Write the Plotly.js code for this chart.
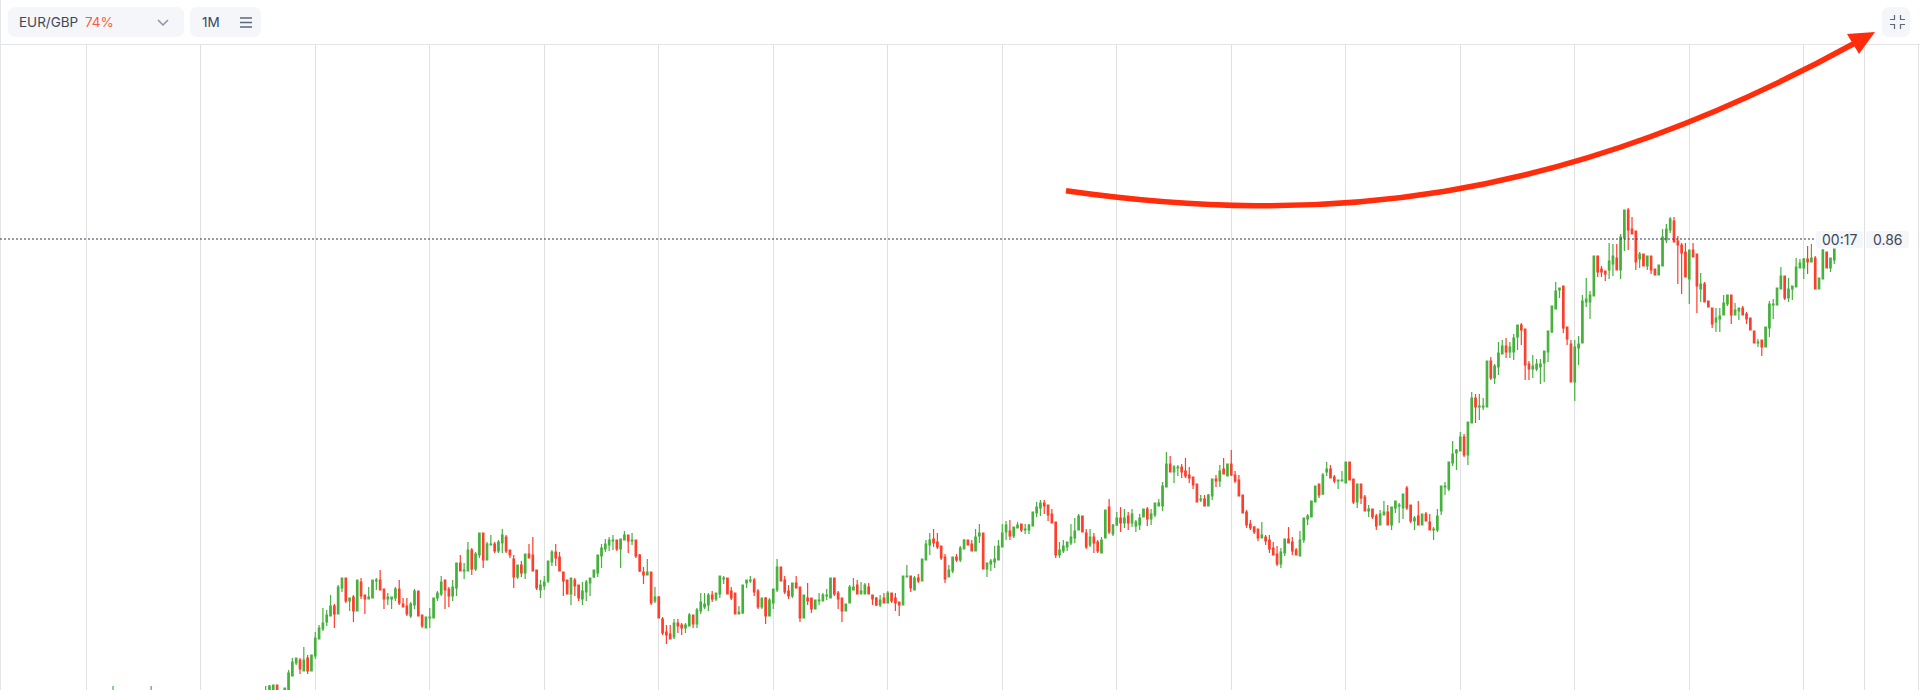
<!DOCTYPE html>
<html>
<head>
<meta charset="utf-8">
<script src="https://cdn.plot.ly/plotly-3.0.1.min.js"></script>
<style>
  html, body { margin: 0; padding: 0; background: #fff; }
  #chartBox { width: 1920px; height: 690px; }
</style>
</head>
<body>
<div id="chartBox"></div>
<script>
// 값은 0.8149 기준 pip 단위로 읽음
const basePrice = 0.8149;
const lastPrice = 0.86;
const pair = 'EUR/GBP';
const payout = '74%';
const period = '1M';
const timer = '00:17';
const skip = n => Array(n).fill(null);

const openPips = [
  -6, ...skip(9), -6, ...skip(29),
  -6,-6,-6,5,null,-6,0,14,27,30,19,32,19,34,51,61,68,74,84,76,102,112,89,93,79,108,95,91,92,109,110,101,91,91,92,101,86,84,74,85,99,75,62,72,72,92,96,110,101,94,102,127,119,119,140,121,135,157,130,145,146,139,147,153,140,131,113,125,117,136,135,120,100,104,109,
  128,138,133,118,110,96,110,105,91,98,107,113,117,134,141,145,149,150,141,150,155,149,150,135,118,115,118,89,93,71,58,56,53,67,65,62,64,75,66,79,83,85,95,91,96,111,112,99,97,76,77,107,109,110,99,83,92,74,87,100,123,110,99,94,107,103,72,92,92,81,89,89,94,92,112,97,92,79,87,100,105,96,96,103,95,92,85,92,87,97,92,88,85,113,114,100,112,109,130,145,151,148,144,133,113,119,133,130,141,150,146,139,154,157,121,126,128,130,143,158,159,154,162,166,160,160,164,177,182,187,185,
  176,168,135,139,143,147,152,160,174,157,145,153,148,137,152,183,156,165,172,167,174,167,164,165,173,181,171,175,184,184,203,226,218,222,223,219,215,213,206,190,191,184,194,211,209,221,214,226,215,210,195,178,166,163,161,152,153,150,142,136,126,137,151,148,140,134,150,171,173,188,206,196,218,221,213,209,209,207,228,211,188,206,193,179,181,174,165,175,178,165,182,184,182,202,185,169,174,165,176,168,160,160,179,203,201,227,237,239,253,235,
  267,292,283,283,283,329,312,323,336,344,338,338,353,365,361,326,321,321,323,327,338,358,381,400,404,363,346,308,342,347,388,388,394,434,421,419,420,426,432,420,452,480,461,459,431,436,424,434,421,415,424,450,460,469,449,445,438,411,440,436,401,406,389,382,368,371,375,386,395,375,379,382,376,372,359,347,350,343,362,385,385,401,414,392,401,403,422,422,431,428,432,401,411,438,422,430
];
const closePips = [
  -2, ...skip(9), -2, ...skip(29),
  -2,4,5,-6,null,2,17,28,32,21,30,19,35,52,62,67,75,84,76,103,112,89,92,79,110,94,91,93,110,110,100,91,93,93,101,87,83,76,86,99,74,64,73,73,92,97,108,100,94,103,127,119,120,140,121,136,157,130,146,146,139,148,155,139,135,113,125,117,136,132,119,102,105,108,129,
  138,132,119,109,96,112,104,92,99,108,112,120,135,142,146,150,150,141,151,155,149,150,134,119,115,118,87,93,72,57,55,51,67,64,62,65,75,66,80,88,86,95,91,97,114,112,96,92,76,78,105,110,110,98,83,92,74,90,101,123,109,98,94,107,102,72,95,89,81,90,90,95,95,112,96,91,79,86,103,103,96,99,105,96,91,85,90,87,97,89,87,85,114,114,102,112,109,131,146,150,147,143,132,111,120,133,130,142,150,145,139,153,157,121,127,129,131,144,157,165,154,163,165,160,161,165,178,183,187,184,175,
  167,135,140,144,148,153,159,174,158,143,153,147,139,150,180,158,165,172,167,172,167,176,168,172,181,171,176,187,187,204,226,218,223,223,218,214,212,205,188,191,184,195,211,209,219,216,226,215,209,194,177,165,162,158,152,155,149,141,135,126,138,151,147,139,135,150,172,174,189,204,195,215,221,212,209,210,210,228,210,188,206,192,179,181,173,164,176,178,165,183,189,185,196,182,169,172,165,176,169,160,161,174,204,204,228,236,240,253,235,268,
  292,283,284,284,329,312,324,337,344,338,343,352,365,360,325,321,324,326,326,339,359,384,399,402,362,351,308,343,346,389,391,395,434,418,418,416,429,434,420,453,480,460,456,428,436,424,434,420,415,425,453,461,471,448,445,437,413,440,433,404,406,388,383,366,372,374,387,395,375,380,382,375,371,360,347,348,343,363,386,386,402,414,392,401,404,423,427,431,428,432,401,412,440,422,432,441
];
const highPips = [
  4, ...skip(9), 4, ...skip(29),
  4,5,5,5,null,2,20,32,32,32,43,35,35,58,65,82,80,95,86,105,112,112,92,95,110,112,95,103,110,112,120,101,97,93,103,110,92,92,88,101,99,75,73,82,92,99,114,110,103,110,127,135,127,148,142,138,157,157,148,155,148,150,161,155,140,135,125,129,136,146,153,120,110,114,129,
  140,146,138,118,110,112,112,105,108,110,112,120,135,146,151,153,155,150,151,159,155,157,150,136,123,131,118,103,94,73,65,65,71,71,67,67,77,75,82,97,97,97,99,97,114,114,112,103,97,84,105,110,114,112,101,92,93,92,101,131,123,114,105,107,114,103,95,107,92,90,97,97,101,112,112,99,92,86,105,112,110,108,107,107,95,93,95,97,99,97,97,88,114,125,114,114,116,131,150,157,161,157,144,136,125,133,136,144,151,150,150,161,166,157,127,131,144,150,166,169,170,163,168,166,166,166,178,188,190,190,185,
  181,168,148,150,148,166,172,176,174,161,161,157,150,153,180,191,166,178,183,181,178,181,170,176,181,183,181,187,191,208,238,234,225,225,226,232,223,213,206,195,195,196,211,215,225,232,226,240,219,215,195,180,170,164,161,168,155,155,148,144,142,151,163,153,142,159,172,176,189,204,206,217,228,225,215,210,219,228,228,211,206,206,195,185,181,176,180,189,185,183,189,187,196,204,185,174,189,176,178,176,163,181,204,208,228,249,241,258,256,268,
  298,296,296,292,329,333,326,348,350,352,348,356,365,367,361,329,335,331,331,339,359,384,408,402,404,363,350,350,354,395,412,399,434,434,424,419,447,446,446,456,480,482,473,459,438,436,434,434,421,425,461,466,473,473,454,447,447,440,447,436,417,408,389,382,382,382,395,395,395,387,382,384,378,372,359,351,350,363,389,391,402,423,414,412,404,432,431,432,444,446,434,412,441,438,432,441
];
const lowPips = [
  -6, ...skip(9), -6, ...skip(29),
  -6,-6,-6,-6,null,-6,0,14,25,16,19,16,19,31,51,59,64,74,62,76,98,87,79,68,79,91,76,91,92,100,100,81,85,81,89,85,83,74,72,81,74,62,62,62,72,89,94,81,83,89,94,119,111,119,115,119,132,122,130,145,137,137,137,137,132,102,111,113,111,132,119,100,92,100,107,
  124,124,119,94,96,85,94,89,85,89,94,112,113,122,138,139,140,139,122,150,137,145,132,118,106,115,85,87,72,55,46,51,51,57,55,57,64,62,62,76,81,79,88,89,92,106,96,90,76,76,76,102,107,94,81,81,66,74,81,98,109,96,91,92,102,68,72,85,77,81,85,89,90,92,94,81,68,79,87,100,96,96,96,96,85,84,83,87,87,87,79,74,85,113,98,100,107,109,130,135,143,141,130,107,113,117,128,128,141,145,139,139,147,121,113,119,122,130,143,150,150,152,162,158,156,156,164,173,174,176,169,
  167,132,132,137,139,145,147,160,158,141,143,137,137,137,152,156,154,164,158,162,160,163,158,160,173,164,165,173,184,179,203,218,207,214,212,212,207,201,188,188,184,184,190,203,203,216,214,214,207,194,177,162,160,156,149,152,145,137,135,124,122,134,147,135,135,134,147,165,173,188,192,195,214,212,207,201,209,207,210,186,182,186,179,173,171,160,165,175,165,160,177,167,171,180,167,160,165,165,169,160,150,158,175,195,199,224,220,239,233,225,
  267,267,270,280,283,310,306,315,336,332,332,330,340,345,310,310,312,319,306,308,328,357,381,392,357,345,308,289,325,347,383,371,394,413,413,409,411,414,420,411,439,440,456,420,422,424,420,416,415,415,424,447,457,448,406,396,413,386,433,377,388,388,383,362,358,358,375,384,366,375,370,375,366,360,347,343,334,343,353,371,385,401,390,388,390,403,422,411,416,428,401,401,411,422,418,426
];

const toPrice = v => v === null ? null : basePrice + v / 10000;
const W = 1920, H = 690, TOP = 45;
const px = x => x / W;
const py = y => 1 - (y - TOP) / (H - TOP);
const pitch = 114.5 / 30;
const lastIdx = openPips.length - 1;
const lastX = 1834.3;
const index = openPips.map((_, i) => i);

const dark = '#3d4759', pill = '#f4f6fa', icon = '#5d6779', red = '#ff2d0c';

// 픽셀 좌표를 paper 좌표 path로 변환
function path(parts) {
  return parts.map(p => typeof p === 'string' ? p : px(p[0]) + ',' + py(p[1])).join(' ');
}
function pillShape(x0, y0, x1, y1, r) {
  return {
    type: 'path', xref: 'paper', yref: 'paper', fillcolor: pill, line: { width: 0 },
    path: path(['M', [x0 + r, y0], 'L', [x1 - r, y0], 'Q', [x1, y0], [x1, y0 + r], 'L', [x1, y1 - r], 'Q', [x1, y1], [x1 - r, y1],
      'L', [x0 + r, y1], 'Q', [x0, y1], [x0, y1 - r], 'L', [x0, y0 + r], 'Q', [x0, y0], [x0 + r, y0], 'Z'])
  };
}
function stroke(parts, color, width) {
  return { type: 'path', xref: 'paper', yref: 'paper', line: { color: color, width: width }, path: path(parts) };
}
function label(x, y, text, color, anchor, size) {
  return {
    xref: 'paper', yref: 'paper', x: px(x), y: py(y), text: text, showarrow: false,
    xanchor: anchor || 'left', yanchor: 'middle', font: { family: 'Inter', size: size || 13.5, color: color || dark }
  };
}

const shapes = [
  // 헤더 구분선, 왼쪽 테두리, 오른쪽 세로선
  stroke(['M', [0, 44.5], 'L', [1920, 44.5]], '#e3e5e8', 1),
  stroke(['M', [0.5, 0], 'L', [0.5, 690]], '#e3e5e8', 1),
  { type: 'line', xref: 'paper', yref: 'paper', x0: px(1864.5), x1: px(1864.5), y0: 0, y1: 1, line: { color: '#e0e0e0', width: 1 }, layer: 'below' },
  // 현재가 점선
  { type: 'line', xref: 'paper', yref: 'y', x0: 0, x1: px(1816), y0: lastPrice, y1: lastPrice, line: { color: '#2e3a4d', width: 1, dash: '2px,2px' } },
  pillShape(8, 7, 184, 37, 8),
  pillShape(190, 7, 261, 37, 8),
  pillShape(1882, 7, 1910, 37, 8),
  pillShape(1816, 231, 1863, 248, 3),
  pillShape(1866, 231, 1909, 248, 3),
  stroke(['M', [158, 20], 'L', [163, 25], 'L', [168, 20]], '#8a93a3', 1.5),
  stroke(['M', [240, 18], 'L', [252, 18]], icon, 1.5),
  stroke(['M', [240, 22.5], 'L', [252, 22.5]], icon, 1.5),
  stroke(['M', [240, 27], 'L', [252, 27]], icon, 1.5),
  stroke(['M', [1894.5, 15], 'L', [1894.5, 19.5], 'L', [1890, 19.5]], icon, 1.2),
  stroke(['M', [1900.5, 15], 'L', [1900.5, 19.5], 'L', [1905, 19.5]], icon, 1.2),
  stroke(['M', [1894.5, 29], 'L', [1894.5, 24.5], 'L', [1890, 24.5]], icon, 1.2),
  stroke(['M', [1900.5, 29], 'L', [1900.5, 24.5], 'L', [1905, 24.5]], icon, 1.2),
  // 빨간 화살표
  stroke(['M', [1066, 190.7], 'C', [1320, 227], [1560, 205], [1855, 43]], red, 5.5),
  { type: 'path', xref: 'paper', yref: 'paper', fillcolor: red, line: { width: 0 }, path: path(['M', [1875, 32], 'L', [1847, 34], 'L', [1859, 54], 'Z']) }
];

const trace = {
  type: 'candlestick',
  x: index,
  open: openPips.map(toPrice),
  high: highPips.map(toPrice),
  low: lowPips.map(toPrice),
  close: closePips.map(toPrice),
  increasing: { line: { color: '#45b13c', width: 1.2 }, fillcolor: '#45b13c' },
  decreasing: { line: { color: '#ff3d2b', width: 1.2 }, fillcolor: '#ff3d2b' },
  hoverinfo: 'skip'
};

const layout = {
  width: W,
  height: H,
  margin: { l: 0, r: 0, t: TOP, b: 0 },
  paper_bgcolor: '#fff',
  plot_bgcolor: '#fff',
  showlegend: false,
  boxgap: 0.45,
  xaxis: {
    range: [lastIdx - lastX / pitch, lastIdx + (W - lastX) / pitch],
    rangeslider: { visible: false },
    tick0: lastIdx - (lastX - 1803.5) / pitch,
    dtick: 30,
    showgrid: true,
    gridcolor: '#e0e0e0',
    gridwidth: 1,
    zeroline: false,
    showticklabels: false,
    ticks: ''
  },
  yaxis: {
    range: [basePrice, basePrice + (H - TOP) / 10000],
    showgrid: false,
    zeroline: false,
    showticklabels: false,
    ticks: ''
  },
  shapes: shapes,
  annotations: [
    label(17, 22.5, pair),
    label(83, 22.5, payout, '#ff5a3c'),
    label(200, 22.5, period),
    label(1839.5, 239.5, timer, dark, 'center', 14),
    label(1888, 239.5, lastPrice.toFixed(2), dark, 'center', 14)
  ]
};

Plotly.newPlot('chartBox', [trace], layout, { displayModeBar: false, staticPlot: true });
</script>
</body>
</html>
